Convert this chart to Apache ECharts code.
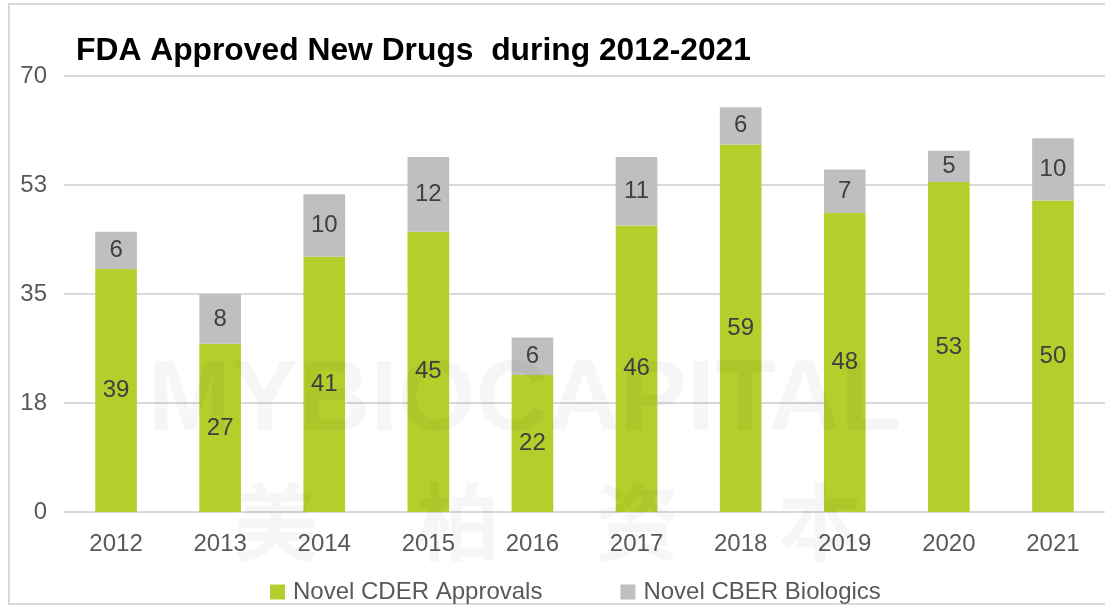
<!DOCTYPE html>
<html>
<head>
<meta charset="utf-8">
<script src="https://cdn.jsdelivr.net/npm/echarts@6/dist/echarts.min.js"></script>
<style>
html,body{margin:0;padding:0;background:#fff;}
#chart{width:1105px;height:606px;}
</style>
</head>
<body>
<div id="chart"></div>
<script>
const categories = ['2012','2013','2014','2015','2016','2017','2018','2019','2020','2021'];
const cderApprovals = [39, 27, 41, 45, 22, 46, 59, 48, 53, 50];
const cberBiologics = [6, 8, 10, 12, 6, 11, 6, 7, 5, 10];
const seriesNames = ['Novel CDER Approvals', 'Novel CBER Biologics'];
const titleText = 'FDA Approved New Drugs  during 2012-2021';
const watermarkText = 'MYBIOCAPITAL';
const watermarkChars = ['美', '柏', '资', '本'];

const FONT = '"Liberation Sans", Arial, sans-serif';
const chart = echarts.init(document.getElementById('chart'), null, {renderer: 'canvas'});

const labelStyle = {
  show: true,
  position: 'inside',
  color: '#404040',
  fontSize: 24,
  fontFamily: FONT
};

const cjkLeft = [234, 416, 595, 778];
const cjkGraphics = watermarkChars.map((ch, i) => ({
  type: 'text',
  silent: true,
  z: 100,
  left: cjkLeft[i],
  top: 480,
  style: {
    text: ch,
    font: 'bold 84px "Noto Sans CJK SC", sans-serif',
    fill: 'rgba(0,0,0,0.035)'
  }
}));

chart.setOption({
  animation: false,
  backgroundColor: '#fff',
  title: {
    text: titleText,
    left: 71,
    top: 30,
    textStyle: {fontSize: 31.8, fontWeight: 'bold', color: '#000', fontFamily: FONT}
  },
  legend: {
    left: 265,
    top: 575,
    itemWidth: 15,
    itemHeight: 15,
    itemGap: 78,
    icon: 'rect',
    textStyle: {fontSize: 24, color: '#595959', fontFamily: FONT, padding: [0, 0, 0, 3]},
    data: seriesNames
  },
  grid: {left: 64, right: -2, top: 76, bottom: 94, containLabel: false},
  xAxis: {
    type: 'category',
    data: categories,
    axisLine: {show: true, lineStyle: {color: '#d9d9d9', width: 2}},
    axisTick: {show: false},
    axisLabel: {color: '#595959', fontSize: 24, fontFamily: FONT, margin: 20}
  },
  yAxis: {
    type: 'value',
    min: 0,
    max: 70,
    interval: 17.5,
    axisLine: {show: false},
    axisTick: {show: false},
    axisLabel: {
      color: '#595959', fontSize: 24, fontFamily: FONT, margin: 17,
      formatter: v => String(Math.round(v))
    },
    splitLine: {lineStyle: {color: '#d9d9d9', width: 2}}
  },
  series: [
    {
      name: seriesNames[0],
      type: 'bar',
      stack: 'total',
      data: cderApprovals,
      barCategoryGap: '60%',
      itemStyle: {color: '#b4cf2c'},
      label: labelStyle
    },
    {
      name: seriesNames[1],
      type: 'bar',
      stack: 'total',
      data: cberBiologics,
      barCategoryGap: '60%',
      itemStyle: {color: '#bfbfbf'},
      label: labelStyle
    }
  ],
  graphic: [
    {
      type: 'rect',
      silent: true,
      z: 0,
      shape: {x: 9, y: 4, width: 1120, height: 600},
      style: {fill: 'none', stroke: '#d9d9d9', lineWidth: 2}
    },
    {
      type: 'text',
      silent: true,
      z: 100,
      left: 148,
      top: 352,
      style: {
        text: watermarkText,
        font: 'bold 100px "Liberation Sans", Arial, sans-serif',
        fill: 'rgba(0,0,0,0.035)'
      }
    }
  ].concat(cjkGraphics)
});
</script>
</body>
</html>
